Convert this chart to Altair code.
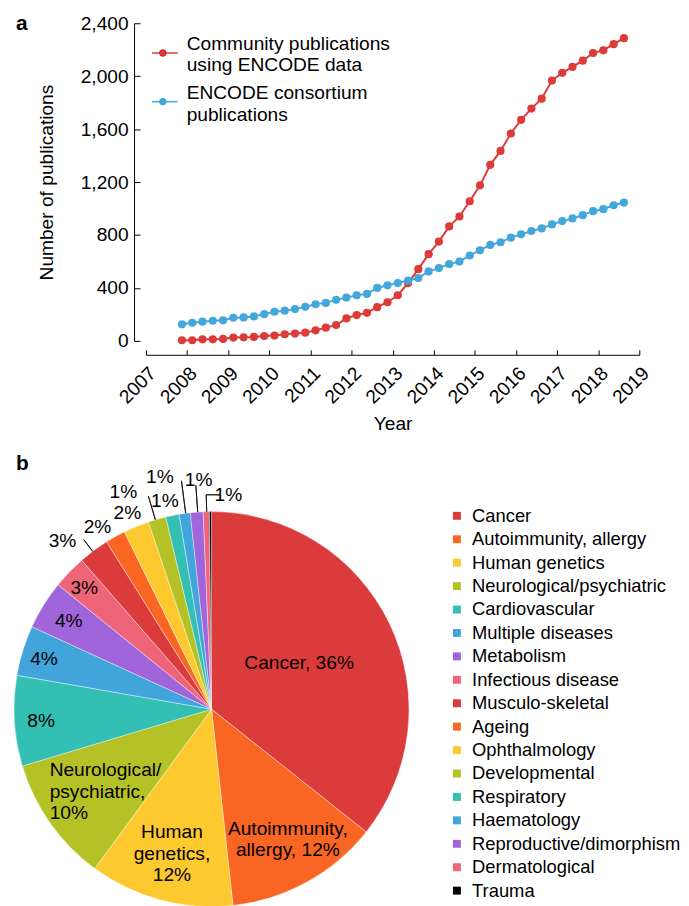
import altair as alt
import pandas as pd

FONT = "Liberation Sans"
FS = 19.3
LFS = 18.5
RED = "#dd3a3a"
BLUE = "#43a7dc"

# ---------------- Panel a data ----------------
quarters = [2007.875, 2008.125, 2008.375, 2008.625, 2008.875, 2009.125, 2009.375, 2009.625,
            2009.875, 2010.125, 2010.375, 2010.625, 2010.875, 2011.125, 2011.375, 2011.625,
            2011.875, 2012.125, 2012.375, 2012.625, 2012.875, 2013.125, 2013.375, 2013.625,
            2013.875, 2014.125, 2014.375, 2014.625, 2014.875, 2015.125, 2015.375, 2015.625,
            2015.875, 2016.125, 2016.375, 2016.625, 2016.875, 2017.125, 2017.375, 2017.625,
            2017.875, 2018.125, 2018.375, 2018.625]
community = [5, 5, 12, 12, 15, 25, 27, 30, 37, 40, 50, 55, 62, 80, 100, 120, 170, 195, 212, 255,
             292, 345, 437, 542, 655, 750, 865, 940, 1055, 1175, 1330, 1435, 1567, 1670, 1755,
             1830, 1967, 2025, 2070, 2117, 2175, 2195, 2242, 2287]
consortium = [125, 137, 145, 152, 155, 175, 177, 185, 202, 220, 228, 240, 257, 277, 287, 310, 327,
              345, 355, 400, 420, 437, 455, 475, 525, 550, 580, 600, 645, 685, 725, 745, 780, 805,
              830, 850, 880, 905, 925, 950, 980, 995, 1025, 1045]
year_ticks = [2007, 2008, 2009, 2010, 2011, 2012, 2013, 2014, 2015, 2016, 2017, 2018, 2019]
count_ticks = [0, 400, 800, 1200, 1600, 2000, 2400]
series_names = ["Community publications\nusing ENCODE data", "ENCODE consortium\npublications"]

# ---------------- Panel b data ----------------
categories = ["Cancer", "Autoimmunity, allergy", "Human genetics", "Neurological/psychiatric",
              "Cardiovascular", "Multiple diseases", "Metabolism", "Infectious disease",
              "Musculo-skeletal", "Ageing", "Ophthalmology", "Developmental", "Respiratory",
              "Haematology", "Reproductive/dimorphism", "Dermatological", "Trauma"]
shares = [35.7, 12.6, 11.8, 10.3, 7.4, 4.1, 4.0, 2.75, 2.5, 1.65, 2.1, 1.45, 1.1, 0.9, 1.05, 0.5, 0.17]
slice_labels = ["Cancer, 36%", "Autoimmunity,\nallergy, 12%", "Human\ngenetics,\n12%",
                "Neurological/\npsychiatric,\n10%", "8%", "4%", "4%", "3%", "3%", "2%", "2%",
                "1%", "1%", "1%", "1%", "1%", ""]
colors = ["#dc3b3b", "#f96522", "#fec92e", "#b5c225", "#34bfb5", "#41a4db", "#a065da", "#ee6479",
          "#dc3b3b", "#f96522", "#fec92e", "#b5c225", "#34bfb5", "#41a4db", "#a065da", "#ee6479",
          "#000000"]

# label layout (angle in degrees from 12 o'clock, radius in px) - style only
label_angle = [62, 149.6, 195.3, 243, 266, 286.5, 301.7, 313.6, 318.4, 327.9, 336.8, 337.9,
               347.4, 347.5, 356.8, 364.5, 0]
label_radius = [100, 152, 151, 183, 172, 176, 169, 177, 226, 216, 215, 236, 215, 240, 231, 216, 0]
# leader lines: (angle1, angle2, r1, r2)
leaders = [(323, 323, 199, 214), (343.5, 343.5, 199, 224), (352.5, 352.5, 199, 232),
           (356, 356, 199, 226), (358.6, 358.6, 199, 216), (358.6, 362.3, 216, 216)]

total = sum(shares)
R = 199
LH = 21.5

# ---------------- Panel a chart ----------------
df_c = pd.DataFrame({"year": quarters, "n": community})
df_e = pd.DataFrame({"year": quarters, "n": consortium})
one = pd.DataFrame({"k": [0]})

xenc = alt.X("year:Q",
             scale=alt.Scale(domain=[2007, 2019], nice=False, zero=False),
             axis=alt.Axis(values=year_ticks, format="d", labelAngle=-45, labelAlign="right",
                           labelBaseline="top", offset=14, tickSize={"expr": "-5"},
                           labelPadding=14, labelOverlap=False, title="Year", titlePadding=7))
yenc = alt.Y("n:Q",
             scale=alt.Scale(domain=[0, 2400], nice=False),
             axis=alt.Axis(values=count_ticks, format=",.0f", offset=12, tickSize={"expr": "-6"},
                           labelPadding=12, labelOverlap=False, title="Number of publications",
                           titlePadding=24))

def series(df, col):
    line = alt.Chart(df).mark_line(color=col, strokeWidth=2).encode(x=xenc, y=yenc)
    pts = alt.Chart(df).mark_circle(color=col, size=68, opacity=1).encode(x=xenc, y=yenc)
    return line, pts

l1, p1 = series(df_c, RED)
l2, p2 = series(df_e, BLUE)

def legend_item(col, ypix, label, stroke, dtext):
    rule = alt.Chart(one).mark_rule(color=col, strokeWidth=1.5).encode(
        x=alt.value(6), x2=alt.value(32), y=alt.value(ypix))
    dot = alt.Chart(one).mark_circle(color=col, size=44, opacity=1, stroke=stroke,
                                     strokeWidth=1).encode(x=alt.value(17), y=alt.value(ypix))
    txt = alt.Chart(one).mark_text(align="left", baseline="alphabetic", font=FONT, fontSize=FS,
                                   lineBreak="\n", lineHeight=22, color="black").encode(
        x=alt.value(41), y=alt.value(ypix + dtext), text=alt.value(label))
    return [rule, dot, txt]

leg = (legend_item(RED, 30, series_names[0], "#b51f1f", -3.5)
       + legend_item(BLUE, 79, series_names[1], BLUE, -2.5))

a_label = alt.Chart(one).mark_text(align="left", baseline="alphabetic", font=FONT, fontSize=21,
                                   fontWeight="bold", color="black").encode(
    x=alt.value(-131), y=alt.value(7), text=alt.value("a"))

top = alt.layer(l1, p1, l2, p2, *leg, a_label).properties(width=497, height=320)

# ---------------- Panel b chart ----------------
pie_df = pd.DataFrame({"cat": categories, "share": shares, "idx": list(range(len(categories)))})

arcs = alt.Chart(pie_df).mark_arc(outerRadius=R, stroke="white", strokeWidth=0.4).encode(
    theta=alt.Theta("share:Q", stack=True, scale=alt.Scale(domain=[0, total])),
    color=alt.Color("cat:N", scale=alt.Scale(domain=categories, range=colors),
                    legend=alt.Legend(title=None, orient="none", direction="vertical",
                                      legendX=304, legendY=-5, symbolType="square",
                                      symbolSize=64, symbolStrokeWidth=0, labelFont=FONT,
                                      labelFontSize=LFS, labelColor="black", rowPadding=4.6,
                                      labelOffset=6, padding=0, labelLimit=400)),
    order=alt.Order("idx:Q"))

lab_rows = []
for i, lab in enumerate(slice_labels):
    if lab:
        lab_rows.append({"label": lab, "t": label_angle[i] / 360.0 * total, "r": label_radius[i],
                         "lines": lab.count("\n") + 1,
                         "left": categories[i] == "Neurological/psychiatric"})
lab_df = pd.DataFrame(lab_rows)

def text_layer(df, align, nlines):
    return alt.Chart(df).mark_text(align=align, baseline="middle", font=FONT, fontSize=FS,
                                   lineBreak="\n", lineHeight=LH, color="black",
                                   dy=-(nlines - 1) * LH / 2).encode(
        theta=alt.Theta("t:Q", stack=None),
        radius=alt.Radius("r:Q", scale=None),
        text="label:N")

txt_layers = []
for left in (False, True):
    for n in (1, 2, 3):
        sub = lab_df[(lab_df["left"] == left) & (lab_df["lines"] == n)]
        if len(sub):
            txt_layers.append(text_layer(sub, "left" if left else "center", n))

lead_df = pd.DataFrame({"t1": [a[0] / 360.0 * total for a in leaders],
                        "t2": [a[1] / 360.0 * total for a in leaders],
                        "r1": [a[2] for a in leaders], "r2": [a[3] for a in leaders]})
lead = alt.Chart(lead_df).mark_arc(stroke="#111111", strokeWidth=0.9, fillOpacity=0).encode(
    theta=alt.Theta("t1:Q", stack=None), theta2="t2:Q",
    radius=alt.Radius("r1:Q", scale=None), radius2="r2:Q")

b_label = alt.Chart(one).mark_text(align="left", baseline="alphabetic", font=FONT, fontSize=21,
                                   fontWeight="bold", color="black").encode(
    x=alt.value(-131), y=alt.value(-42), text=alt.value("b"))

bottom = alt.layer(arcs, lead, *txt_layers, b_label).properties(width=132, height=398)

chart = alt.vconcat(top, bottom, spacing=19).resolve_scale(
    color="independent", theta="independent", radius="independent"
).resolve_legend(color="independent").configure_view(stroke=None).configure_axis(
    grid=False, domainColor="black", tickColor="black", labelColor="black", titleColor="black",
    labelFont=FONT, titleFont=FONT, labelFontSize=FS, titleFontSize=FS, titleFontWeight="normal",
    domainWidth=1, tickWidth=1).properties(padding={"left": 5, "top": 2, "right": 0, "bottom": 0})

chart.save("out.html", embed_options={"renderer": "svg", "actions": False})
